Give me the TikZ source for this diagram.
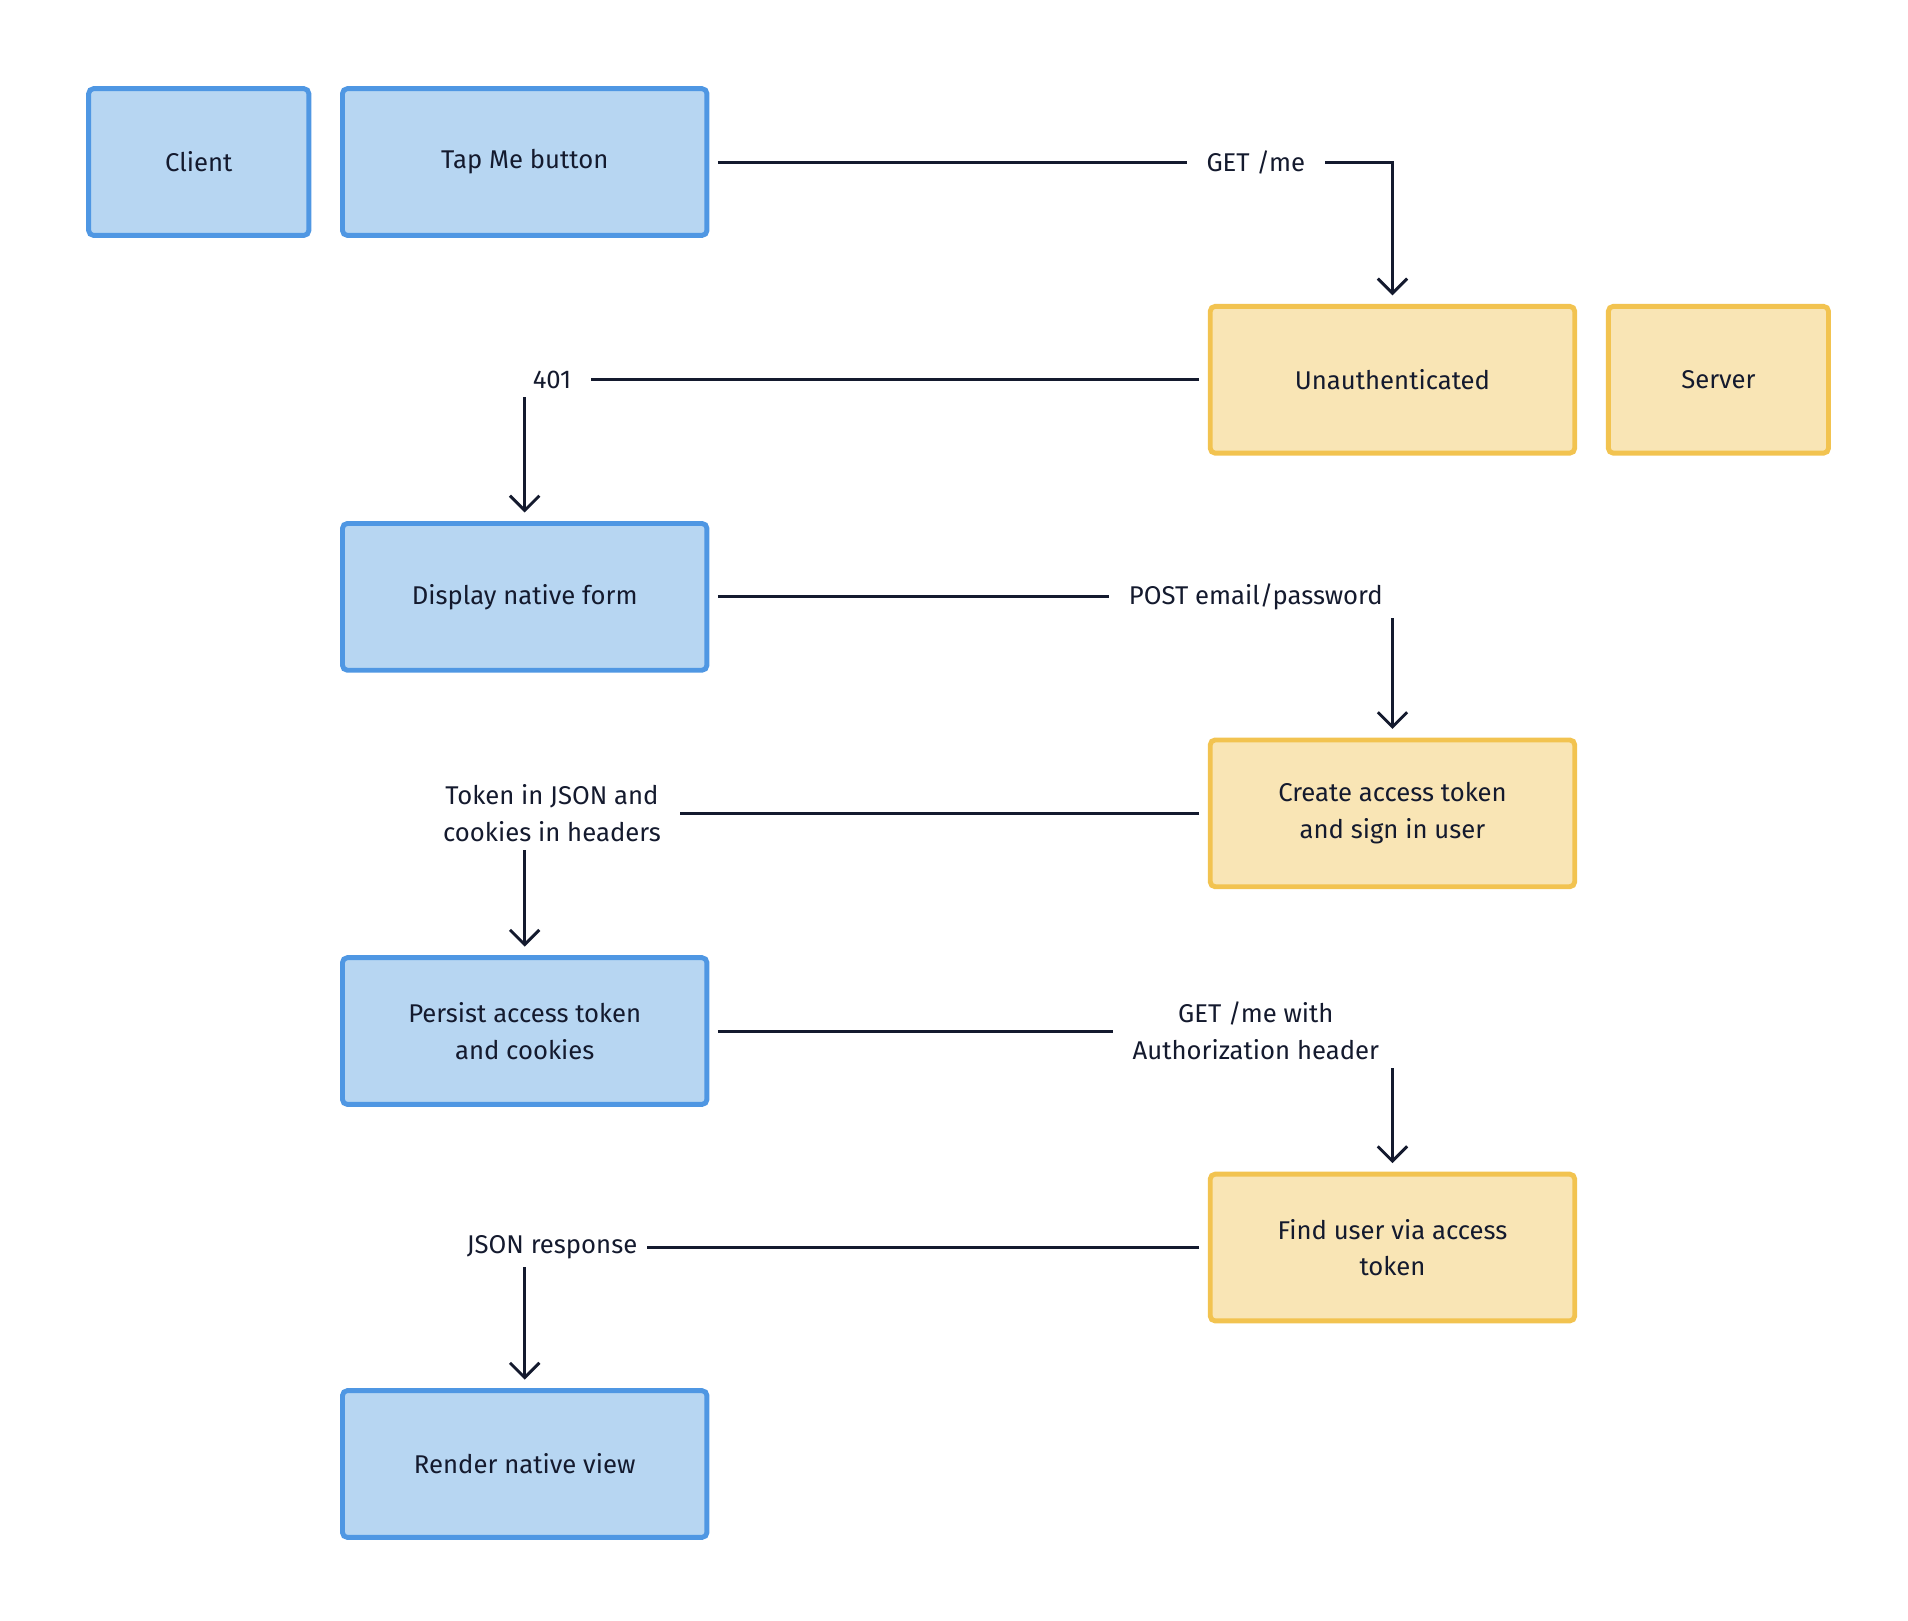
\documentclass[tikz,border=0pt]{standalone}
\usepackage{fontspec}
\setmainfont{Fira Sans}
\usetikzlibrary{arrows.meta}
\definecolor{cfill}{HTML}{B7D6F2}
\definecolor{cline}{HTML}{4F97E3}
\definecolor{sfill}{HTML}{F9E5B5}
\definecolor{sline}{HTML}{F2C350}
\definecolor{ink}{HTML}{141A2E}
\tikzset{
  client/.style={draw=cline, fill=cfill, line width=2pt, rounded corners=2pt, minimum height=60pt, align=center, text=ink, font=\fontsize{10.5}{15}\selectfont},
  server/.style={client, draw=sline, fill=sfill},
  flow/.style={draw=ink, line width=1.2pt, -{Straight Barb[length=6pt,width=12pt]}, shorten <=3.5pt, shorten >=3.5pt},
  lbl/.style={fill=white, inner xsep=8pt, align=center, text=ink, font=\fontsize{10.5}{15}\selectfont}
}
\begin{document}
\begin{tikzpicture}[x=0.5pt, y=-0.5pt]
\useasboundingbox (0,0) rectangle (1560,1325);

% Client
\node[client, minimum width=90pt] (client) at (162.5,132.5) {Client};
\node[client, minimum width=149pt] (tap) at (429,132.5) {Tap Me button};
\node[client, minimum width=149pt] (form) at (429,488) {Display native form};
\node[client, minimum width=149pt] (persist) at (429,843) {Persist access token\\and cookies};
\node[client, minimum width=149pt] (render) at (429,1197) {Render native view};

% Server
\node[server, minimum width=149pt] (unauth) at (1138.5,310.5) {Unauthenticated};
\node[server, minimum width=90pt] (server) at (1405,310.5) {Server};
\node[server, minimum width=149pt] (create) at (1138.5,665) {Create access token\\and sign in user};
\node[server, minimum width=149pt] (find) at (1138.5,1020) {Find user via access\\token};

% Connectors
\draw[flow] (tap.east) -| node[lbl, pos=0.4] {GET /me} (unauth.north);
\draw[flow] (unauth.west) -| node[lbl, pos=0.48] {401} (form.north);
\draw[flow] (form.east) -| node[lbl, pos=0.4] {POST email/password} (create.north);
\draw[flow] (create.west) -| node[lbl, pos=0.48] {Token in JSON and\\cookies in headers} (persist.north);
\draw[flow] (persist.east) -| node[lbl, pos=0.4] {GET /me with\\Authorization header} (find.north);
\draw[flow] (find.west) -| node[lbl, pos=0.48, inner xsep=4pt] {JSON response} (render.north);
\end{tikzpicture}
\end{document}
